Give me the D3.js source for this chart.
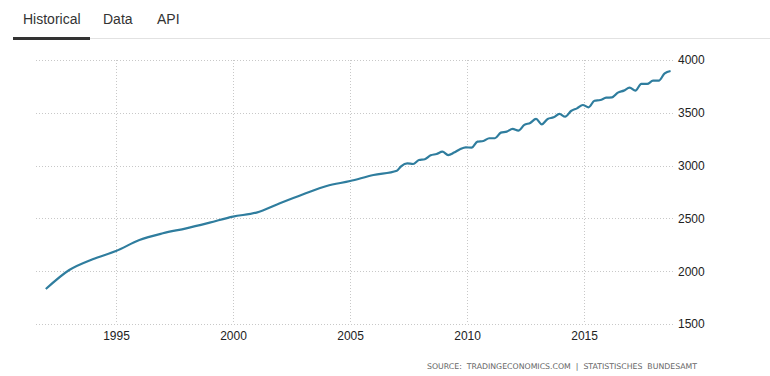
<!DOCTYPE html>
<html>
<head>
<meta charset="utf-8">
<script src="https://cdn.jsdelivr.net/npm/d3@7"></script>
<style>
  body { margin: 0; background: #fff; font-family: Arial, "Liberation Sans", sans-serif; }
</style>
</head>
<body>
<div class="canvas"></div>
<script>
// tab labels at the top
const tabs = ['Historical', 'Data', 'API'];

// early part of the series: one reading per year (start of year)
const annualYears = [1992, 1993, 1994, 1995, 1996, 1997, 1998, 1999, 2000,
  2001, 2002, 2003, 2004, 2005, 2006, 2007];
const annualValues = [1831, 2011, 2113, 2191, 2295, 2359, 2406, 2460, 2517,
  2555, 2643, 2728, 2807, 2854, 2911, 2952];

// later part: quarterly readings from 2007 Q1 to 2018 Q3
const quarterStart = 2007;
const quarterValues = [
  2996, 3021, 3015, 3053,
  3060, 3097, 3110, 3132,
  3100, 3123, 3154, 3173,
  3170, 3227, 3233, 3259,
  3259, 3312, 3322, 3347,
  3331, 3385, 3404, 3442,
  3391, 3442, 3457, 3489,
  3463, 3517, 3542, 3574,
  3552, 3614, 3621, 3643,
  3646, 3691, 3710, 3738,
  3710, 3773, 3773, 3804,
  3804, 3874, 3896
];

const xTicks = [1995, 2000, 2005, 2010, 2015];
const yTicks = [1500, 2000, 2500, 3000, 3500, 4000];
const source = 'SOURCE:  TRADINGECONOMICS.COM  |  STATISTISCHES  BUNDESAMT';

// build one list of {date, value}
const dataArray = annualYears.map((yr, i) => ({ date: new Date(yr, 0, 1), value: annualValues[i] }))
  .concat(quarterValues.map((v, i) => ({
    date: new Date(quarterStart + Math.floor(i / 4), (i % 4) * 3 + 2, 12),
    value: v
  })));

const svg = d3.select('.canvas')
  .append('svg')
    .attr('width', 770)
    .attr('height', 376);

// ---- tabs ----
const tabX = [23, 103, 157];
svg.selectAll('text.tab')
  .data(tabs)
  .enter()
  .append('text')
    .attr('class', 'tab')
    .attr('x', (d, i) => tabX[i])
    .attr('y', 24)
    .attr('font-size', 14)
    .attr('fill', '#333')
    .text(d => d);

svg.append('line')
  .attr('x1', 13).attr('x2', 770)
  .attr('y1', 38.5).attr('y2', 38.5)
  .attr('stroke', '#e2e2e2')
  .attr('stroke-width', 1);

svg.append('rect')
  .attr('x', 13).attr('y', 37)
  .attr('width', 77).attr('height', 3)
  .attr('fill', '#333');

// ---- chart area ----
const plot = { left: 36, right: 675, top: 60, bottom: 324 };

const x = d3.scaleTime()
  .domain([new Date(1991, 7, 1), new Date(2018, 10, 20)])
  .range([plot.left, plot.right]);

const y = d3.scaleLinear()
  .domain([1500, 4000])
  .range([plot.bottom, plot.top]);

const graph = svg.append('g');

// horizontal grid
graph.selectAll('line.hgrid')
  .data(yTicks)
  .enter()
  .append('line')
    .attr('class', 'hgrid')
    .attr('x1', plot.left).attr('x2', plot.right)
    .attr('y1', d => Math.round(y(d)) + 0.5)
    .attr('y2', d => Math.round(y(d)) + 0.5)
    .attr('stroke', '#c8c8c8')
    .attr('stroke-dasharray', '1,2');

// vertical grid
graph.selectAll('line.vgrid')
  .data(xTicks)
  .enter()
  .append('line')
    .attr('class', 'vgrid')
    .attr('x1', d => Math.round(x(new Date(d, 0, 1))) + 0.5)
    .attr('x2', d => Math.round(x(new Date(d, 0, 1))) + 0.5)
    .attr('y1', plot.top).attr('y2', plot.bottom)
    .attr('stroke', '#c8c8c8')
    .attr('stroke-dasharray', '1,2');

// x axis labels
const xAxis = d3.axisBottom(x)
  .tickValues(xTicks.map(d => new Date(d, 0, 1)))
  .tickFormat(d3.timeFormat('%Y'))
  .tickSize(0)
  .tickPadding(7);

const xAxisGroup = svg.append('g')
  .attr('transform', `translate(0, ${plot.bottom})`)
  .call(xAxis);
xAxisGroup.select('.domain').remove();
xAxisGroup.selectAll('text')
  .attr('font-family', 'Arial, "Liberation Sans", sans-serif')
  .attr('font-size', 12)
  .attr('fill', '#222');

// y axis labels on the right, plain numbers without separators
const yAxis = d3.axisRight(y)
  .tickValues(yTicks)
  .tickFormat(d3.format('d'))
  .tickSize(0)
  .tickPadding(3);

const yAxisGroup = svg.append('g')
  .attr('transform', `translate(${plot.right}, 0)`)
  .call(yAxis);
yAxisGroup.select('.domain').remove();
yAxisGroup.selectAll('text')
  .attr('font-family', 'Arial, "Liberation Sans", sans-serif')
  .attr('font-size', 12)
  .attr('fill', '#222');

// the series line
const line = d3.line()
  .x(d => x(d.date))
  .y(d => y(d.value))
  .curve(d3.curveMonotoneX);

graph.append('path')
  .datum(dataArray)
  .attr('d', line)
  .attr('fill', 'none')
  .attr('stroke', '#2f7d9e')
  .attr('stroke-width', 2.2)
  .attr('stroke-linejoin', 'round');

// source note
svg.append('text')
  .attr('x', 427)
  .attr('y', 369)
  .attr('font-family', '"DejaVu Sans", sans-serif')
  .attr('font-size', 7.8)
  .attr('fill', '#666')
  .style('white-space', 'pre')
  .text(source);
</script>
</body>
</html>
